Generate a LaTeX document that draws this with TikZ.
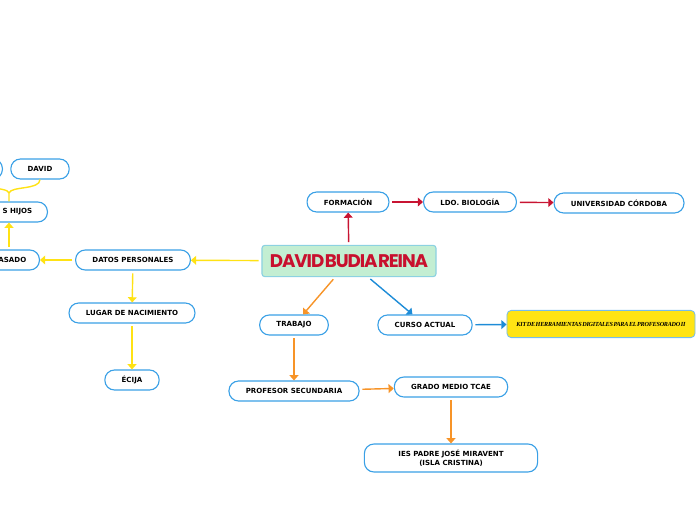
\documentclass[tikz,border=0pt]{standalone}
\usepackage{fontspec}
\setmainfont{DejaVu Sans}
\newfontfamily\titlefont[LetterSpace=-6,WordSpace=0.2]{Poppins}
\newfontfamily\kitfont[LetterSpace=-4,WordSpace=0.4]{Liberation Serif}
\usepackage{tikz}
\usetikzlibrary{arrows.meta}
\definecolor{bordblue}{RGB}{58,160,230}
\definecolor{linkredc}{RGB}{200,20,50}
\definecolor{linkyellowc}{RGB}{255,226,20}
\definecolor{linkorangec}{RGB}{247,148,40}
\definecolor{linkbluec}{RGB}{30,140,215}
\definecolor{titlefill}{RGB}{195,238,210}
\definecolor{titleborder}{RGB}{140,210,225}
\definecolor{titlered}{RGB}{200,16,46}
\definecolor{kityellow}{RGB}{255,228,20}

\begin{document}
\begin{tikzpicture}[x=0.025cm,y=-0.025cm,font=\fontsize{5}{6}\selectfont\bfseries]
\tikzset{topic/.style={draw=bordblue,line width=0.8pt,fill=white,rounded corners=0.24cm,minimum height=0.5cm,inner xsep=0.42cm}}
\tikzset{title/.style={draw=titleborder,line width=0.8pt,fill=titlefill,rounded corners=2pt,minimum width=4.35cm,minimum height=0.78cm,text=titlered,font=\titlefont\fontsize{13}{14}\selectfont\bfseries}}
\tikzset{kit/.style={draw=bordblue!70,line width=0.6pt,fill=kityellow,rounded corners=3pt,minimum width=4.7cm,minimum height=0.68cm,font=\kitfont\fontsize{4.4}{5}\selectfont\bfseries\itshape}}
\tikzset{link/.style={-{Triangle[length=1.3mm,width=2.2mm]},line width=1pt,shorten <=2pt}}
\tikzset{linkred/.style={link,linkredc}}
\tikzset{linkyellow/.style={link,linkyellowc}}
\tikzset{linkorange/.style={link,linkorangec}}
\tikzset{linkblue/.style={link,linkbluec}}
\useasboundingbox (0,0) rectangle (696,520);
\clip (0,0) rectangle (696,520);
% central topic
\node[title] (root) at (349,261) {DAVID BUDIA REINA};
% formacion
\node[topic] (formacion) at (348,202) {FORMACIÓN};
\node[topic] (ldo) at (470,202) {LDO. BIOLOGÍA};
\node[topic] (univ) at (619,203) {UNIVERSIDAD CÓRDOBA};
% datos personales
\node[topic] (datos) at (133,260) {DATOS PERSONALES};
\node[topic,anchor=east,text width=2cm,align=right,inner xsep=0.33cm] (casado) at (40,260) {ASADO};
\node[topic,anchor=east,text width=2cm,align=right,inner xsep=0.38cm] (hijos) at (48,212) {S HIJOS};
\node[topic] (david) at (40,169) {DAVID};
\node[topic,anchor=east,minimum width=1.5cm] (hijo) at (3,169) {};
\node[topic] (lugar) at (132,313) {LUGAR DE NACIMIENTO};
\node[topic] (ecija) at (132,380) {ÉCIJA};
% trabajo
\node[topic] (trabajo) at (294,325) {TRABAJO};
\node[topic] (profesor) at (294,391) {PROFESOR SECUNDARIA};
\node[topic] (grado) at (451,387) {GRADO MEDIO TCAE};
\node[topic,align=center,minimum height=0.7cm,minimum width=4.33cm] (ies) at (451,458) {IES PADRE JOSÉ MIRAVENT\\(ISLA CRISTINA)};
% curso actual
\node[topic] (curso) at (425,325) {CURSO ACTUAL};
\node[kit] (kit) at (601,324) {KIT DE HERRAMIENTAS DIGITALES PARA EL PROFESORADO II};
% connectors
\draw[linkred] (root) -- (formacion);
\draw[linkred] (formacion) -- (ldo);
\draw[linkred] (ldo) -- (univ);
\draw[linkyellow] (root) -- (datos);
\draw[linkyellow] (datos) -- (casado);
\coordinate (fork) at (9,193);
\draw[linkyellow] (casado.north -| fork) -- (hijos.south -| fork);
\draw[linkyellowc,line width=1pt] (hijos.north -| fork) -- (fork)
  .. controls (11,186) and (40,190) .. (david.south);
\draw[linkyellowc,line width=1pt] (fork) .. controls (7,186) and (-27,190) .. (hijo.south);
\draw[linkyellow] (datos) -- (lugar);
\draw[linkyellow] (lugar) -- (ecija);
\draw[linkorange] (root) -- (trabajo);
\draw[linkorange] (trabajo) -- (profesor);
\draw[linkorange] (profesor) -- (grado);
\draw[linkorange] (grado) -- (ies);
\draw[linkblue] (root) -- (curso);
\draw[linkblue] (curso) -- (kit);
\end{tikzpicture}
\end{document}
